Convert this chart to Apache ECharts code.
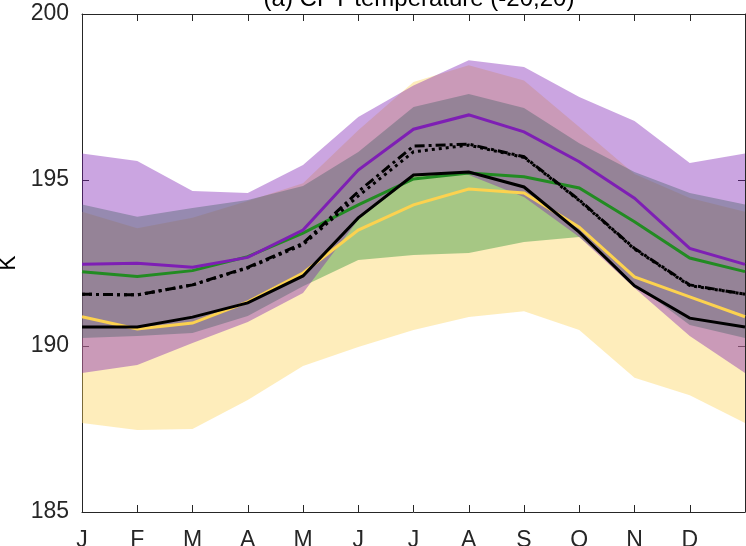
<!DOCTYPE html>
<html>
<head>
<meta charset="utf-8">
<script src="https://cdn.jsdelivr.net/npm/echarts@6/dist/echarts.min.js"></script>
<style>html,body{margin:0;padding:0;background:#fff}#c{width:746px;height:546px}</style>
</head>
<body>
<div id="c"></div>
<script>
// Month categories (13th point repeats January, unlabeled)
var months = ['J','F','M','A','M','J','J','A','S','O','N','D',''];
var yTicks = [185, 190, 195, 200];

// Shaded ranges (K)
var purpleHi = [195.8, 195.57, 194.67, 194.61, 195.45, 196.9, 197.85, 198.61, 198.4, 197.5, 196.78, 195.51, 195.8];
var purpleLo = [189.19, 189.43, 190.09, 190.72, 191.6, 193.8, 195.15, 195.15, 194.49, 193.28, 191.75, 190.3, 189.19];
var greenHi  = [194.26, 193.89, 194.16, 194.4, 194.82, 195.84, 197.2, 197.59, 197.17, 196.11, 195.24, 194.61, 194.26];
var greenLo  = [190.24, 190.3, 190.39, 190.9, 191.8, 192.59, 192.74, 192.8, 193.13, 193.28, 191.87, 190.63, 190.24];
var yellowHi = [194.04, 193.55, 193.86, 194.37, 194.9, 196.5, 197.95, 198.46, 198.0, 196.6, 195.18, 194.46, 194.04];
var yellowLo = [187.68, 187.47, 187.5, 188.37, 189.4, 189.97, 190.48, 190.87, 191.05, 190.48, 189.04, 188.52, 187.68];

// Lines (K)
var purpleLine = [192.46, 192.49, 192.37, 192.67, 193.49, 195.3, 196.53, 196.96, 196.45, 195.55, 194.45, 192.94, 192.46];
var greenLine  = [192.24, 192.09, 192.27, 192.69, 193.4, 194.25, 195.03, 195.21, 195.1, 194.76, 193.74, 192.65, 192.24];
var yellowLine = [190.88, 190.51, 190.69, 191.33, 192.2, 193.49, 194.25, 194.73, 194.61, 193.58, 192.08, 191.48, 190.88];
var blackLine  = [190.57, 190.57, 190.87, 191.3, 192.11, 193.86, 195.15, 195.24, 194.79, 193.43, 191.81, 190.84, 190.57];
var dashDotLine = [191.56, 191.54, 191.84, 192.37, 193.09, 194.65, 196.02, 196.08, 195.7, 194.4, 192.94, 191.84, 191.56];
var dottedLine  = [191.56, 191.54, 191.84, 192.35, 193.05, 194.52, 195.85, 196.05, 195.68, 194.38, 192.92, 191.82, 191.56];

var C_PURPLE = '#7e1fb4', C_GREEN = '#228b22', C_YELLOW = '#fcd24f';

function diff(hi, lo){ return hi.map(function(v,i){ return +(v - lo[i]).toFixed(3); }); }
function band(name, lo, hi, rgba){
  return [
    {name: name+'lo', type:'line', stack:name, data: lo, symbol:'none', silent:true,
     lineStyle:{width:0, opacity:0}},
    {name: name+'hi', type:'line', stack:name, data: diff(hi, lo), symbol:'none', silent:true,
     lineStyle:{width:0, opacity:0}, areaStyle:{color: rgba, opacity:1}}
  ];
}
function line(name, data, color, type){
  return {name:name, type:'line', data:data, symbol:'none', silent:true,
    lineStyle:{color:color, width:3, type:type||'solid', cap:'butt', join:'miter'}};
}

var axisCol = '#262626';
var font = 'Liberation Sans, Arial, Helvetica, sans-serif';

var series = [].concat(
  band('Y', yellowLo, yellowHi, 'rgba(252,210,85,0.4)'),
  band('G', greenLo, greenHi, 'rgba(34,142,50,0.4)'),
  band('P', purpleLo, purpleHi, 'rgba(126,31,180,0.4)'),
  [
    line('yellow', yellowLine, C_YELLOW),
    line('green', greenLine, C_GREEN),
    line('purple', purpleLine, C_PURPLE),
    line('dotted', dottedLine, '#000', [3,4]),
    line('dashdot', dashDotLine, '#000', [10,4,3,4]),
    line('black', blackLine, '#000')
  ]
);

var chart = echarts.init(document.getElementById('c'), null, {renderer:'canvas'});
chart.setOption({
  animation:false,
  backgroundColor:'#fff',
  title:{text:'(a) CPT temperature (-20,20)', left:414, top:-18, textAlign:'center',
    textStyle:{fontFamily:font, fontSize:24, fontWeight:'normal', color:'#000'}},
  grid:{left:82, right:1, top:14, bottom:34, containLabel:false, outerBoundsMode:'none'},
  xAxis:[
    {type:'category', data:months, boundaryGap:false, position:'bottom',
     axisLine:{lineStyle:{color:axisCol, width:1}},
     axisTick:{inside:true, length:7, alignWithLabel:true, lineStyle:{color:axisCol}},
     axisLabel:{color:axisCol, fontFamily:font, fontSize:23, margin:17, interval:0},
     splitLine:{show:false}},
    {type:'category', data:months, boundaryGap:false, position:'top',
     axisLine:{lineStyle:{color:axisCol, width:1}},
     axisTick:{inside:true, length:7, lineStyle:{color:axisCol}},
     axisLabel:{show:false}, splitLine:{show:false}}
  ],
  yAxis:[
    {type:'value', min:yTicks[0], max:yTicks[yTicks.length-1], interval:5, position:'left',
     name:'K', nameLocation:'middle', nameGap:60, nameRotate:90,
     nameTextStyle:{color:'#000', fontFamily:font, fontSize:23},
     axisLine:{show:true, lineStyle:{color:axisCol, width:1}},
     axisTick:{show:true, inside:true, length:7, lineStyle:{color:axisCol}},
     axisLabel:{color:axisCol, fontFamily:font, fontSize:23, margin:13},
     splitLine:{show:false}},
    {type:'value', min:yTicks[0], max:yTicks[yTicks.length-1], interval:5, position:'right',
     axisLine:{show:true, lineStyle:{color:axisCol, width:1}},
     axisTick:{show:true, inside:true, length:7, lineStyle:{color:axisCol}},
     axisLabel:{show:false}, splitLine:{show:false}}
  ],
  series: series
});
</script>
</body>
</html>
